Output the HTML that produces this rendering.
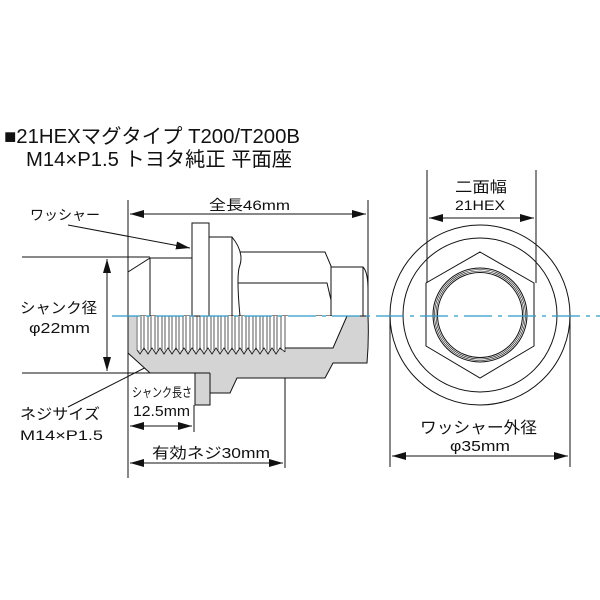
<!DOCTYPE html>
<html><head><meta charset="utf-8"><style>
html,body{margin:0;padding:0;background:#fff;}
svg{display:block}
text{font-family:"Liberation Sans","Noto Sans CJK JP",sans-serif;fill:#111}
</style></head><body>
<svg width="600" height="600" viewBox="0 0 600 600" xmlns="http://www.w3.org/2000/svg">
<defs>
<marker id="b" viewBox="0 0 14 8" refX="14" refY="4" markerWidth="14" markerHeight="8" orient="auto-start-reverse" markerUnits="userSpaceOnUse"><path d="M0,0 L14,4 L0,8 Z" fill="#111"/></marker>
</defs>
<!-- title -->
<text x="4" y="143" font-size="20" textLength="296" lengthAdjust="spacingAndGlyphs">■21HEXマグタイプ T200/T200B</text>
<text x="26" y="166" font-size="20" textLength="266" lengthAdjust="spacingAndGlyphs">M14×P1.5 トヨタ純正 平面座</text>

<g stroke="#111" stroke-width="1" fill="none">
<line x1="128" y1="200" x2="128" y2="478"/>
<line x1="368" y1="200" x2="368" y2="300"/>
<line x1="22" y1="257" x2="150" y2="257"/>
<line x1="22" y1="373" x2="150" y2="373"/>
<line x1="194" y1="405" x2="194" y2="432"/>
<line x1="285" y1="353" x2="285" y2="468"/>
<line x1="130" y1="214" x2="366" y2="214" marker-start="url(#b)" marker-end="url(#b)"/>
<line x1="107" y1="259" x2="107" y2="371" marker-start="url(#b)" marker-end="url(#b)"/>
<line x1="130" y1="426" x2="192" y2="426" marker-start="url(#b)" marker-end="url(#b)"/>
<line x1="130" y1="463" x2="283" y2="463" marker-start="url(#b)" marker-end="url(#b)"/>
<line x1="68" y1="225" x2="190" y2="248" marker-end="url(#b)"/>
<line x1="68" y1="407" x2="168" y2="356" marker-end="url(#b)"/>
</g>

<path d="M128,316 L128,353 L150,373 L195,373 L195,405 L210,405 L210,393 L230,393 L237,378 L325,378 L333,363 L367,363 Q369,340 368,316 Z" fill="#d4d4d4" stroke="#111" stroke-width="1"/>
<rect x="136" y="316" width="149" height="34" fill="#fff"/>
<path d="M285,316 L347,316 L333,348 L285,348 Z" fill="#fff" stroke="none"/>
<g stroke="#111" stroke-width="1" fill="none">
<path d="M285,348 L333,348 L347,316"/>
<line x1="195" y1="373" x2="210" y2="373"/>
<line x1="210" y1="373" x2="210" y2="393"/>
<g stroke-width="0.7">
<line x1="137" y1="316" x2="137" y2="350"/>
<line x1="141" y1="316" x2="141" y2="350"/><line x1="144" y1="316" x2="144" y2="350"/>
<line x1="148" y1="316" x2="148" y2="350"/><line x1="151" y1="316" x2="151" y2="350"/>
<line x1="155" y1="316" x2="155" y2="350"/><line x1="158" y1="316" x2="158" y2="350"/>
<line x1="162" y1="316" x2="162" y2="350"/><line x1="165" y1="316" x2="165" y2="350"/>
<line x1="169" y1="316" x2="169" y2="350"/><line x1="172" y1="316" x2="172" y2="350"/>
<line x1="176" y1="316" x2="176" y2="350"/><line x1="179" y1="316" x2="179" y2="350"/>
<line x1="183" y1="316" x2="183" y2="350"/><line x1="186" y1="316" x2="186" y2="350"/>
<line x1="190" y1="316" x2="190" y2="350"/><line x1="193" y1="316" x2="193" y2="350"/>
<line x1="197" y1="316" x2="197" y2="350"/><line x1="200" y1="316" x2="200" y2="350"/>
<line x1="204" y1="316" x2="204" y2="350"/><line x1="207" y1="316" x2="207" y2="350"/>
<line x1="211" y1="316" x2="211" y2="350"/><line x1="214" y1="316" x2="214" y2="350"/>
<line x1="218" y1="316" x2="218" y2="350"/><line x1="221" y1="316" x2="221" y2="350"/>
<line x1="225" y1="316" x2="225" y2="350"/><line x1="228" y1="316" x2="228" y2="350"/>
<line x1="232" y1="316" x2="232" y2="350"/><line x1="235" y1="316" x2="235" y2="350"/>
<line x1="239" y1="316" x2="239" y2="350"/><line x1="242" y1="316" x2="242" y2="350"/>
<line x1="246" y1="316" x2="246" y2="350"/><line x1="249" y1="316" x2="249" y2="350"/>
<line x1="253" y1="316" x2="253" y2="350"/><line x1="256" y1="316" x2="256" y2="350"/>
<line x1="260" y1="316" x2="260" y2="350"/><line x1="263" y1="316" x2="263" y2="350"/>
<line x1="267" y1="316" x2="267" y2="350"/><line x1="270" y1="316" x2="270" y2="350"/>
<line x1="274" y1="316" x2="274" y2="350"/><line x1="277" y1="316" x2="277" y2="350"/>
<line x1="281" y1="316" x2="281" y2="350"/>
<line x1="285" y1="316" x2="285" y2="352"/>
</g>
<path d="M137,350 L140,354 L144,348 L148,354 L152,348 L156,354 L160,348 L164,354 L168,348 L172,354 L176,348 L180,354 L184,348 L188,354 L192,348 L196,354 L200,348 L204,354 L208,348 L212,354 L216,348 L220,354 L224,348 L228,354 L232,348 L236,354 L240,348 L244,354 L248,348 L252,354 L256,348 L260,354 L264,348 L268,354 L272,348 L276,354 L280,348 L285,352" stroke-width="0.8"/>
<path d="M128,316 L128,272 L150,258 L192,258 L192,316"/>
<line x1="150" y1="258" x2="150" y2="316"/>
<rect x="192" y="223" width="17" height="93"/>
<path d="M209,237 L232,237 Q244,252 240,265 Q236,274 240,316"/>
<line x1="232" y1="237" x2="232" y2="316"/>
<path d="M240,252 L325,252 L331,266 L331,316"/>
<path d="M238,283 L327,283 L331,300"/>
<path d="M331,267 L363,267 Q368,272 368,290 L368,316"/>
<line x1="363" y1="267" x2="363" y2="316"/>

<line x1="427" y1="170" x2="427" y2="283"/>
<line x1="536" y1="170" x2="536" y2="283"/>
<line x1="429" y1="218" x2="534" y2="218" marker-start="url(#b)" marker-end="url(#b)"/>
<line x1="390" y1="315" x2="390" y2="467"/>
<line x1="570" y1="315" x2="570" y2="467"/>
<line x1="392" y1="456" x2="568" y2="456" marker-start="url(#b)" marker-end="url(#b)"/>
<circle cx="480" cy="315" r="90"/>
<circle cx="480" cy="315" r="77"/>
<path d="M480,252 L534,283 L534,346 L480,378 L426,346 L426,283 Z"/>
<circle cx="480" cy="315" r="47"/>
<circle cx="480" cy="315" r="45.5" stroke-width="0.6"/>
<circle cx="480" cy="315" r="44" stroke-width="0.6"/>
<circle cx="480" cy="315" r="42.5"/>
</g>
<line x1="112" y1="316" x2="600" y2="316" stroke="#2a9ac8" stroke-width="1.3" stroke-dasharray="28,6,4,6"/>

<text x="209" y="210" font-size="14" textLength="81" lengthAdjust="spacingAndGlyphs">全長46mm</text>
<text x="30" y="220" font-size="14" textLength="70" lengthAdjust="spacingAndGlyphs">ワッシャー</text>
<text x="20" y="313" font-size="15" textLength="77" lengthAdjust="spacingAndGlyphs">シャンク径</text>
<text x="29" y="333" font-size="15" textLength="61" lengthAdjust="spacingAndGlyphs">φ22mm</text>
<text x="132" y="397" font-size="13" textLength="60" lengthAdjust="spacingAndGlyphs">シャンク長さ</text>
<text x="133" y="416" font-size="15" textLength="57" lengthAdjust="spacingAndGlyphs">12.5mm</text>
<text x="20" y="419" font-size="15" textLength="80" lengthAdjust="spacingAndGlyphs">ネジサイズ</text>
<text x="20" y="440" font-size="14" textLength="83" lengthAdjust="spacingAndGlyphs">M14×P1.5</text>
<text x="152" y="458" font-size="15" textLength="118" lengthAdjust="spacingAndGlyphs">有効ネジ30mm</text>
<text x="455" y="192" font-size="15" textLength="52" lengthAdjust="spacingAndGlyphs">二面幅</text>
<text x="455" y="210" font-size="14" textLength="50" lengthAdjust="spacingAndGlyphs">21HEX</text>
<text x="420" y="433" font-size="16" textLength="117" lengthAdjust="spacingAndGlyphs">ワッシャー外径</text>
<text x="450" y="451" font-size="15" textLength="60" lengthAdjust="spacingAndGlyphs">φ35mm</text>
</svg>
</body></html>
